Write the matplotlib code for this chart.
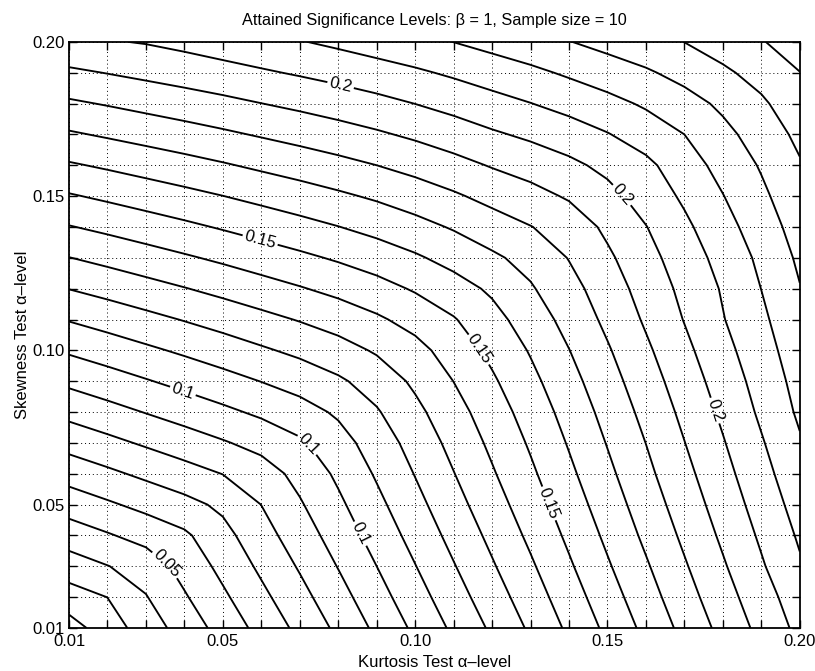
import numpy as np
import matplotlib
matplotlib.use("Agg")
import matplotlib.pyplot as plt

plt.rcParams['font.family'] = ['Liberation Sans', 'DejaVu Sans']

# nominal alpha-levels of the two tests (grid of the simulation)
kurtosis_alpha = [0.01, 0.02, 0.03, 0.04, 0.05, 0.06, 0.07, 0.08, 0.09, 0.10,
                  0.11, 0.12, 0.13, 0.14, 0.15, 0.16, 0.17, 0.18, 0.19, 0.20]
skewness_alpha = [0.01, 0.02, 0.03, 0.04, 0.05, 0.06, 0.07, 0.08, 0.09, 0.10,
                  0.11, 0.12, 0.13, 0.14, 0.15, 0.16, 0.17, 0.18, 0.19, 0.20]

# attained significance level of the combined test, in units of 1e-4
# one row per skewness level (0.01 .. 0.20), one column per kurtosis level
attained = [
    [158, 250, 347, 443, 537, 632, 725, 821, 920, 1019, 1118, 1216, 1315, 1418, 1522, 1625, 1728, 1829, 1928, 2026],
    [255, 301, 395, 490, 583, 676, 768, 863, 961, 1059, 1157, 1254, 1351, 1453, 1556, 1658, 1760, 1860, 1957, 2054],
    [352, 397, 444, 535, 627, 719, 810, 904, 1000, 1097, 1194, 1290, 1386, 1487, 1589, 1689, 1790, 1889, 1989, 2088],
    [448, 491, 535, 583, 669, 761, 851, 943, 1039, 1134, 1230, 1324, 1420, 1519, 1620, 1720, 1819, 1917, 2015, 2113],
    [544, 586, 628, 670, 720, 801, 890, 981, 1075, 1170, 1264, 1358, 1452, 1550, 1650, 1748, 1847, 1943, 2041, 2139],
    [640, 680, 721, 761, 802, 854, 930, 1018, 1111, 1204, 1297, 1390, 1483, 1580, 1678, 1776, 1873, 1968, 2067, 2164],
    [735, 774, 813, 852, 891, 932, 985, 1060, 1147, 1237, 1329, 1420, 1512, 1608, 1705, 1801, 1898, 1993, 2091, 2190],
    [829, 866, 904, 941, 979, 1018, 1060, 1115, 1191, 1275, 1362, 1451, 1542, 1636, 1732, 1828, 1923, 2018, 2117, 2216],
    [921, 957, 993, 1029, 1065, 1102, 1140, 1185, 1242, 1318, 1401, 1486, 1574, 1666, 1761, 1855, 1949, 2043, 2138, 2234],
    [1013, 1047, 1082, 1116, 1151, 1187, 1222, 1262, 1311, 1368, 1444, 1524, 1608, 1698, 1790, 1883, 1976, 2069, 2160, 2253],
    [1106, 1139, 1172, 1205, 1238, 1272, 1306, 1342, 1385, 1435, 1493, 1567, 1647, 1733, 1822, 1913, 2004, 2095, 2180, 2276],
    [1202, 1233, 1265, 1296, 1328, 1361, 1393, 1427, 1465, 1510, 1560, 1616, 1690, 1767, 1849, 1940, 2024, 2109, 2201, 2296],
    [1298, 1328, 1358, 1388, 1418, 1449, 1480, 1512, 1547, 1587, 1633, 1683, 1733, 1804, 1883, 1966, 2050, 2133, 2221, 2317],
    [1395, 1423, 1452, 1480, 1509, 1539, 1568, 1598, 1631, 1668, 1709, 1755, 1797, 1843, 1920, 1997, 2080, 2164, 2250, 2341],
    [1491, 1518, 1545, 1572, 1599, 1627, 1655, 1684, 1714, 1749, 1787, 1829, 1867, 1911, 1970, 2041, 2116, 2197, 2280, 2366],
    [1589, 1614, 1640, 1665, 1691, 1718, 1744, 1771, 1800, 1832, 1868, 1907, 1940, 1978, 2025, 2077, 2155, 2232, 2309, 2391],
    [1688, 1712, 1736, 1760, 1784, 1809, 1834, 1860, 1887, 1917, 1951, 1987, 2018, 2053, 2095, 2146, 2200, 2273, 2343, 2423],
    [1785, 1807, 1830, 1852, 1875, 1899, 1922, 1946, 1972, 2001, 2032, 2066, 2098, 2133, 2171, 2213, 2262, 2319, 2384, 2461],
    [1882, 1903, 1924, 1945, 1966, 1988, 2010, 2033, 2058, 2085, 2115, 2147, 2178, 2214, 2250, 2287, 2332, 2382, 2436, 2498],
    [1982, 1993, 2006, 2026, 2049, 2072, 2095, 2120, 2147, 2173, 2201, 2232, 2264, 2297, 2332, 2366, 2401, 2447, 2493, 2553],
]

plain_levels = [0.02, 0.03, 0.04, 0.06, 0.07, 0.08, 0.09, 0.11, 0.12, 0.13,
                0.14, 0.16, 0.17, 0.18, 0.19, 0.21, 0.22, 0.23, 0.24, 0.25]
label_levels = [0.05, 0.10, 0.15, 0.20]
tick_labels = ["0.01", "", "", "", "0.05", "", "", "", "", "0.10",
               "", "", "", "", "0.15", "", "", "", "", "0.20"]

# where the inline level labels sit along their lines
label_spots = [(0.0355, 0.0311),
               (0.0397, 0.0872), (0.0719, 0.0694), (0.0851, 0.0402),
               (0.0597, 0.1358), (0.1182, 0.1018), (0.1338, 0.0499),
               (0.0805, 0.1854), (0.1538, 0.1504), (0.1761, 0.0797)]

Z = np.array(attained) / 1e4

fig = plt.figure(figsize=(8.15, 6.71), dpi=100)
ax = fig.add_axes([0.0847, 0.0641, 0.8966, 0.8735])

ax.contour(kurtosis_alpha, skewness_alpha, Z, levels=plain_levels, colors='k', linewidths=1.35)
cs = ax.contour(kurtosis_alpha, skewness_alpha, Z, levels=label_levels, colors='k', linewidths=1.35)
ax.clabel(cs, manual=label_spots, fmt=lambda v: f"{v:g}", fontsize=12,
          inline=True, inline_spacing=2)

ax.set_xlim(0.01, 0.2)
ax.set_ylim(0.01, 0.2)
ax.set_xticks(kurtosis_alpha)
ax.set_xticklabels(tick_labels)
ax.set_yticks(skewness_alpha)
ax.set_yticklabels(tick_labels)
ax.grid(True, color='k', linestyle=(0, (1, 3)), linewidth=0.7)
ax.tick_params(direction='in', length=6, width=1, top=True, right=True, labelsize=12)
ax.tick_params(axis='x', pad=4)
ax.tick_params(axis='y', pad=3)
for s in ax.spines.values():
    s.set_linewidth(1.3)

ax.set_title("Attained Significance Levels: β = 1, Sample size = 10", fontsize=11.7, pad=12)
ax.set_xlabel("Kurtosis Test α–level", fontsize=12, labelpad=5)
ax.set_ylabel("Skewness Test α–level", fontsize=12, labelpad=2)

fig.savefig("out.png", dpi=100)
